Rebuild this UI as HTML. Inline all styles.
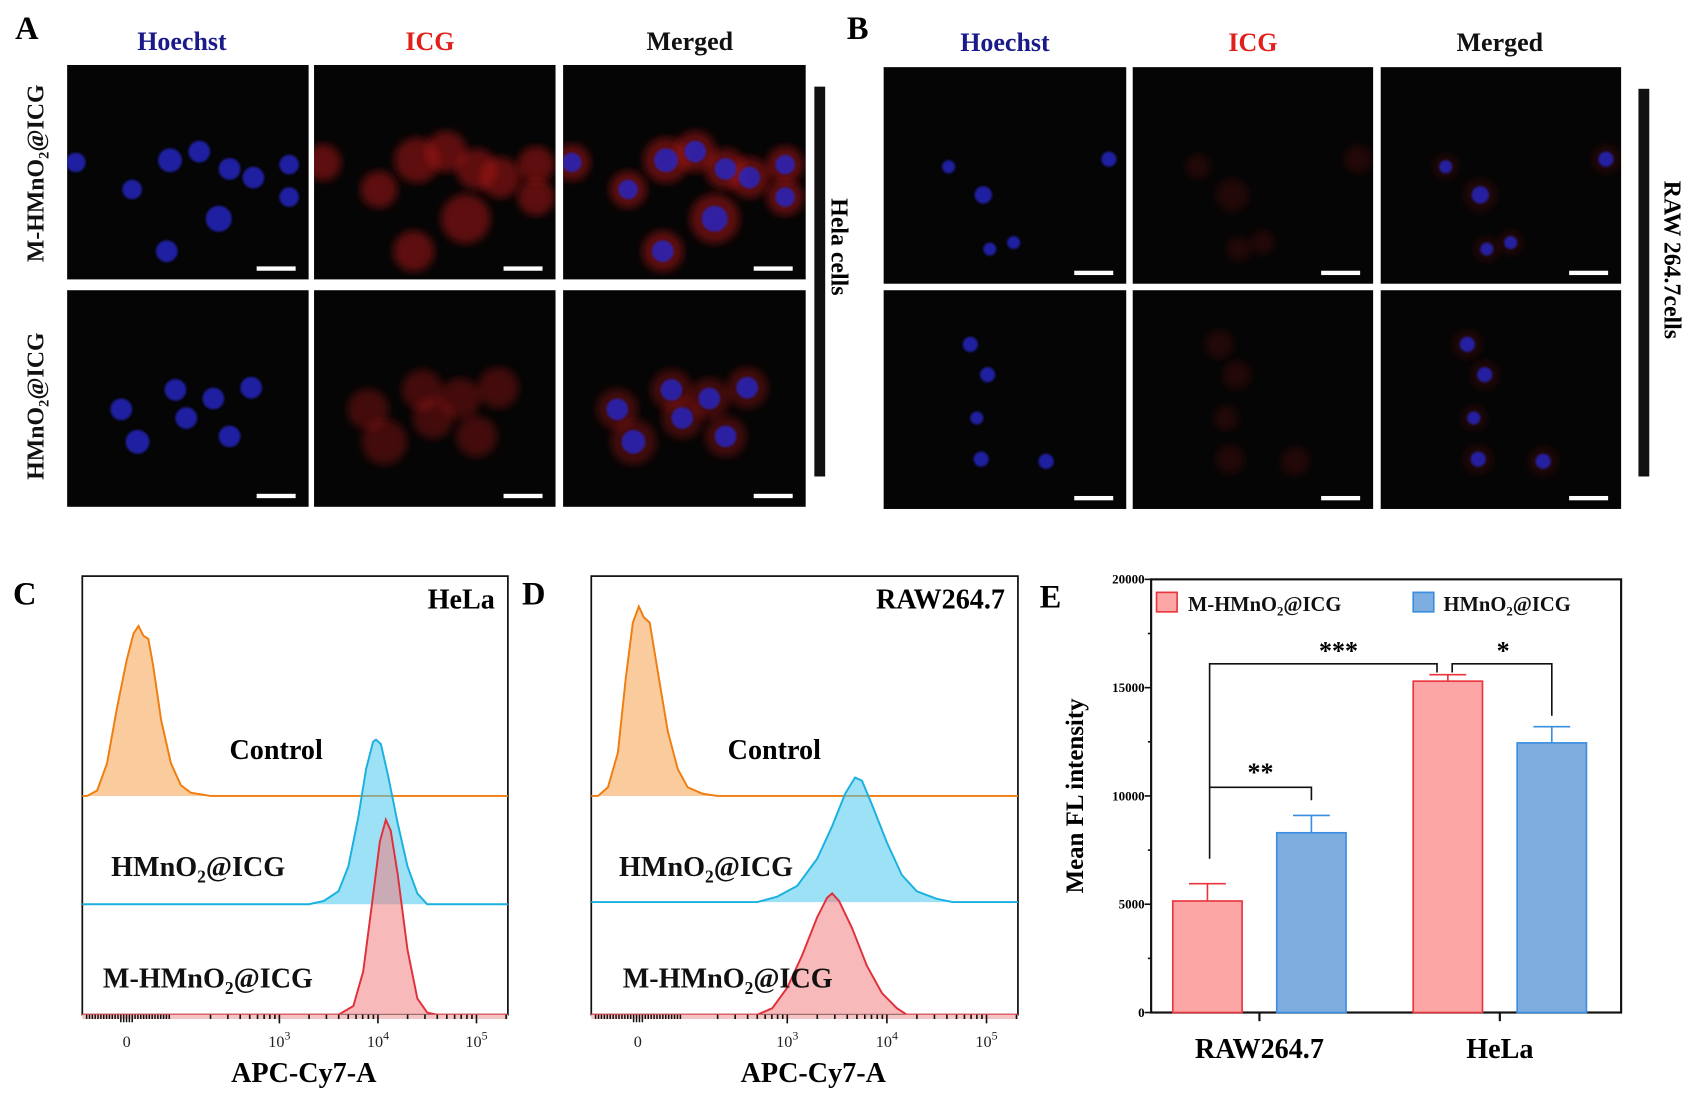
<!DOCTYPE html>
<html><head><meta charset="utf-8"><style>
html,body{margin:0;padding:0;background:#fff;}
svg{display:block;font-family:"Liberation Serif",serif;}
</style></head><body>
<svg id="fig" width="1698" height="1101" viewBox="0 0 1568 1016.7" xmlns="http://www.w3.org/2000/svg">
<defs>
<filter id="blur1"><feGaussianBlur stdDeviation="1"/></filter>
<filter id="blur4"><feGaussianBlur stdDeviation="4"/></filter>
</defs>
<g id="micro"></g>
<g id="flowC"></g>
<g id="flowD"></g>
<g id="barE"></g>
</svg>
<script>
const NS="http://www.w3.org/2000/svg";
function mk(parent,tag,attrs,txt){const e=document.createElementNS(NS,tag);for(const k in attrs)e.setAttribute(k,attrs[k]);if(txt!=null)e.textContent=txt;parent.appendChild(e);return e;}
function sub2(parent,x,y,pre,post,size,anchor,fill){
  const t=mk(parent,'text',{x:x,y:y,'font-size':size,'font-weight':'bold','text-anchor':anchor||'start',fill:fill||'#111'});
  mk(t,'tspan',{},pre);mk(t,'tspan',{'font-size':size*0.62,dy:size*0.22},'2');mk(t,'tspan',{dy:-size*0.22},post);return t;}

// ---------------- Microscopy ----------------
const micro=document.getElementById('micro');
const rowA1=[[8,90,9],[95,88,11],[122,80,10],[150,96,10],[172,104,10],[205,92,9],[140,142,12],[92,172,10],[205,122,9],[60,115,9]];
const rowA2=[[50,110,10],[100,92,10],[135,100,10],[170,90,10],[65,140,11],[150,135,10],[110,118,10]];
const rowB1=[[60,92,6],[208,85,7],[92,118,8],[98,168,6],[120,162,6]];
const rowB2=[[80,50,7],[96,78,7],[86,118,6],[90,156,7],[150,158,7]];
const colsA=[62,290,520], colsB=[816,1046,1275];
function drawImg(x,y,w,h,cells,mode,redI){
  const g=mk(micro,'g',{});
  
  
  mk(g,'rect',{x:x,y:y,width:w,height:h,fill:'#050505'});
  const cid='c'+Math.round(x)+'_'+Math.round(y);
  const cp=mk(g,'clipPath',{id:cid});mk(cp,'rect',{x:x,y:y,width:w,height:h});
  const cg=mk(g,'g',{'clip-path':'url(#'+cid+')'});
  if(mode!=='blue'){cells.forEach(c=>{mk(cg,'circle',{cx:x+c[0],cy:y+c[1],r:c[2]*1.9,fill:'#a81818',opacity:redI,filter:'url(#blur4)'});});}
  if(mode!=='red'){cells.forEach(c=>{mk(cg,'circle',{cx:x+c[0],cy:y+c[1],r:c[2],fill:'#2828c8',opacity:0.8,filter:'url(#blur1)'});});}
  mk(g,'rect',{x:x+w-48,y:y+h-12,width:36,height:4,fill:'#fff'});
}
[[60,198,rowA1,0.55],[268,200,rowA2,0.38]].forEach(r=>{colsA.forEach((cx,i)=>drawImg(cx,r[0],i==2?224:223,r[1],r[2],['blue','red','merged'][i],r[3]));});
[[62,200,rowB1,0.18],[268,202,rowB2,0.18]].forEach(r=>{colsB.forEach((cx,i)=>drawImg(cx,r[0],i==0?224:222,r[1],r[2],['blue','red','merged'][i],r[3]));});
// titles
[['Hoechst',168,'#1a1a8a'],['ICG',397,'#e0201a'],['Merged',637,'#111']].forEach(t=>mk(micro,'text',{x:t[1],y:46,'font-size':24,'font-weight':'bold','text-anchor':'middle',fill:t[2]},t[0]));
[['Hoechst',928,'#1a1a8a'],['ICG',1157,'#e0201a'],['Merged',1385,'#111']].forEach(t=>mk(micro,'text',{x:t[1],y:47,'font-size':24,'font-weight':'bold','text-anchor':'middle',fill:t[2]},t[0]));
mk(micro,'text',{x:14,y:36,'font-size':30,'font-weight':'bold'},'A');
mk(micro,'text',{x:782,y:36,'font-size':30,'font-weight':'bold'},'B');
let rl=mk(micro,'g',{transform:'translate(40,160) rotate(-90)'});sub2(rl,0,0,'M-HMnO','@ICG',22,'middle');
rl=mk(micro,'g',{transform:'translate(40,375) rotate(-90)'});sub2(rl,0,0,'HMnO','@ICG',22,'middle');
mk(micro,'rect',{x:752,y:80,width:10,height:360,fill:'#111'});
mk(micro,'text',{transform:'translate(768,228) rotate(90)','font-size':22,'font-weight':'bold','text-anchor':'middle'},'Hela cells');
mk(micro,'rect',{x:1513,y:82,width:10,height:358,fill:'#111'});
mk(micro,'text',{transform:'translate(1537,240) rotate(90)','font-size':22,'font-weight':'bold','text-anchor':'middle'},'RAW 264.7cells');

// ---------------- Flow cytometry ----------------
const cOrange=[[1.05,0],[1.15,5],[1.25,30],[1.35,80],[1.45,125],[1.52,150],[1.57,157],[1.62,148],[1.67,145],[1.72,120],[1.8,70],[1.9,30],[2.0,10],[2.1,3],[2.3,0]];
const cBlue=[[3.3,0],[3.45,3],[3.6,12],[3.7,35],[3.8,80],[3.88,125],[3.95,150],[3.98,152],[4.03,148],[4.1,120],[4.2,75],[4.3,35],[4.4,10],[4.5,0]];
const cRed=[[3.6,0],[3.75,8],[3.85,40],[3.95,110],[4.02,160],[4.08,180],[4.13,170],[4.2,130],[4.3,60],[4.4,15],[4.5,2],[4.6,0]];
const dOrange=[[1.1,0],[1.2,8],[1.3,40],[1.38,110],[1.45,160],[1.51,175],[1.56,165],[1.62,160],[1.7,115],[1.8,60],[1.9,25],[2.0,8],[2.15,2],[2.3,0]];
const dBlue=[[2.7,0],[2.9,5],[3.1,15],[3.3,40],[3.45,70],[3.58,100],[3.68,115],[3.75,112],[3.85,90],[4.0,55],[4.15,25],[4.3,10],[4.5,3],[4.66,0]];
const dRed=[[2.7,0],[2.85,6],[3.0,25],[3.15,55],[3.3,90],[3.4,108],[3.45,112],[3.52,105],[3.65,80],[3.8,45],[3.95,20],[4.1,6],[4.2,0]];
const flowTickLabels=['0','3','4','5'];
function flowPanel(gid,box,x3,pxDec,zeroV,curves,labels,title,letter){
  const g=document.getElementById(gid);
  const X=v=>x3+(v-3)*pxDec;
  mk(g,'rect',{x:box[0],y:box[1],width:box[2]-box[0],height:box[3]-box[1],fill:'none',stroke:'#111','stroke-width':1.6});
  curves.forEach(c=>{
    let d='M'+box[0]+','+c.base+' L'+X(c.pts[0][0])+','+c.base;
    c.pts.forEach(p=>{d+=' L'+X(p[0]).toFixed(1)+','+(c.base-p[1]).toFixed(1);});
    d+=' L'+X(c.pts[c.pts.length-1][0])+','+c.base;
    const fill=mk(g,'path',{d:d+' Z',fill:c.fill,opacity:0.55,stroke:'none'});
    
    
    const ln=mk(g,'path',{d:d+' L'+box[2]+','+c.base,fill:'none',stroke:c.stroke,'stroke-width':1.8});
    
    
  });
  mk(g,'rect',{x:box[0],y:box[3],width:box[2]-box[0],height:4,fill:'#f3c4c4'});
  const by=box[3];
  for(let dec=2;dec<=5;dec++){for(let m=1;m<10;m++){const v=dec+Math.log10(m);const px=X(v);if(px>box[0]&&px<box[2]&&v>=2.2){const L=m==1?8:4;mk(g,'line',{x1:px,y1:by,x2:px,y2:by+L,stroke:'#111','stroke-width':1.5});}}}
  for(let i=0;i<30;i++){const px=box[0]+4+i*((X(zeroV)+38-box[0])/30);const L=(Math.abs(px-X(zeroV))<6)?7:4;mk(g,'line',{x1:px,y1:by,x2:px,y2:by+L,stroke:'#111','stroke-width':1.4});}
  const tv=[zeroV,3,4,5];
  tv.forEach((v,i)=>{const t=mk(g,'text',{x:X(v),y:by+30,'font-size':15,'text-anchor':'middle',fill:'#222'});
    if(i==0)t.textContent=flowTickLabels[0];else{mk(t,'tspan',{},'10');mk(t,'tspan',{dy:-7,'font-size':11},flowTickLabels[i]);}
    
    });
  const xt=mk(g,'text',{x:(box[0]+box[2])/2+8,y:by+62,'font-size':26,'font-weight':'bold','text-anchor':'middle'},'APC-Cy7-A');
  
  
  mk(g,'text',{x:box[2]-12,y:box[1]+30,'font-size':26,'font-weight':'bold','text-anchor':'end'},title);
  mk(g,'text',{x:labels[0][0],y:labels[0][1],'font-size':26,'font-weight':'bold','text-anchor':'middle'},'Control');
  sub2(g,labels[1][0],labels[1][1],'HMnO','@ICG',26,'middle');
  sub2(g,labels[2][0],labels[2][1],'M-HMnO','@ICG',26,'middle');
  mk(g,'text',{x:box[0]-64,y:box[1]+26,'font-size':30,'font-weight':'bold'},letter);
}
flowPanel('flowC',[76,532,469,937],258,91,1.45,[
 {pts:cOrange,base:735,fill:'#f5a04a',stroke:'#f07d10',name:'control-c'},
 {pts:cBlue,base:835,fill:'#4ac8ee',stroke:'#1ab0e0',name:'hmno2-c'},
 {pts:cRed,base:937,fill:'#f08080',stroke:'#e0303a',name:'m-hmno2-c'}],
 [[255,701],[183,809],[192,912]],'HeLa','C');
flowPanel('flowD',[546,532,940,937],727,92,1.5,[
 {pts:dOrange,base:735,fill:'#f5a04a',stroke:'#f07d10',name:'control-d'},
 {pts:dBlue,base:833,fill:'#4ac8ee',stroke:'#1ab0e0',name:'hmno2-d'},
 {pts:dRed,base:937,fill:'#f08080',stroke:'#e0303a',name:'m-hmno2-d'}],
 [[715,701],[652,809],[672,912]],'RAW264.7','D');

// ---------------- Bar chart E ----------------
const categories=['RAW264.7','HeLa'];
const mVals=[5150,15300];
const mErr=[800,300];
const hVals=[8300,12450];
const hErr=[800,750];
const yTicks=[0,5000,10000,15000,20000];
const E=document.getElementById('barE');
const ax={l:1063,r:1497,t:535,b:935};
const Y=v=>ax.b-(v/20000)*(ax.b-ax.t);
const catX=i=>1163+i*222;
mk(E,'rect',{x:ax.l,y:ax.t,width:ax.r-ax.l,height:ax.b-ax.t,fill:'none',stroke:'#111','stroke-width':2});
for(let v=0;v<=20000;v+=2500){mk(E,'line',{x1:ax.l-(v%5000?3:6),y1:Y(v),x2:ax.l,y2:Y(v),stroke:'#111','stroke-width':1.5});}
yTicks.forEach(v=>{const t=mk(E,'text',{x:ax.l-6,y:Y(v)+4,'font-size':12,'font-weight':'bold','text-anchor':'end'},String(v));
 
 });
categories.forEach((c,i)=>{mk(E,'line',{x1:catX(i),y1:ax.b,x2:catX(i),y2:ax.b+8,stroke:'#111','stroke-width':2});
 const t=mk(E,'text',{x:catX(i),y:ax.b+42,'font-size':26,'font-weight':'bold','text-anchor':'middle'},c);
 
 });
const yl=mk(E,'text',{transform:'translate(1000,735) rotate(-90)','font-size':23,'font-weight':'bold','text-anchor':'middle'},'Mean FL intensity');


function bar(cx,v,e,fill,stroke,name){
  const w=64,x=cx-w/2;
  const r=mk(E,'rect',{x:x,y:Y(v),width:w,height:ax.b-Y(v),fill:fill,stroke:stroke,'stroke-width':1.5});
  
  
  mk(E,'line',{x1:cx,y1:Y(v),x2:cx,y2:Y(v+e),stroke:stroke,'stroke-width':1.5});
  mk(E,'line',{x1:cx-17,y1:Y(v+e),x2:cx+17,y2:Y(v+e),stroke:stroke,'stroke-width':1.5});
}
categories.forEach((c,i)=>{
  bar(catX(i)-48,mVals[i],mErr[i],'#fca6a6','#e8343c','bar-m-hmno2-'+c.toLowerCase());
  bar(catX(i)+48,hVals[i],hErr[i],'#7eaedf','#3a8ee0','bar-hmno2-'+c.toLowerCase());
});
const bp=(pts)=>mk(E,'polyline',{points:pts.map(p=>p.join(',')).join(' '),fill:'none',stroke:'#111','stroke-width':1.5});
const x1=catX(0)-46,x2=catX(0)+48,x3=catX(1)-50,x4=catX(1)+48;
bp([[x1,Y(7100)],[x1,Y(16100)],[x3-8,Y(16100)],[x3-8,Y(15700)]]);
bp([[x3+6,Y(15700)],[x3+6,Y(16100)],[x4,Y(16100)],[x4,Y(13700)]]);
bp([[x1,Y(10400)],[x2,Y(10400)],[x2,Y(9800)]]);
mk(E,'text',{x:(x1+x3)/2+10,y:Y(16100)-4,'font-size':24,'font-weight':'bold','text-anchor':'middle'},'***');
mk(E,'text',{x:(x3+x4)/2+4,y:Y(16100)-4,'font-size':24,'font-weight':'bold','text-anchor':'middle'},'*');
mk(E,'text',{x:(x1+x2)/2,y:Y(10400)-6,'font-size':24,'font-weight':'bold','text-anchor':'middle'},'**');
const lg1=mk(E,'g',{});
mk(lg1,'rect',{x:1068,y:547,width:19,height:18,fill:'#fca6a6',stroke:'#e8343c','stroke-width':1.5});
const lg2=mk(E,'g',{});
mk(lg2,'rect',{x:1305,y:547,width:19,height:18,fill:'#7eaedf',stroke:'#3a8ee0','stroke-width':1.5});
sub2(lg1,1097,564,'M-HMnO','@ICG',19,'start');
sub2(lg2,1333,564,'HMnO','@ICG',19,'start');
mk(E,'text',{x:960,y:561,'font-size':30,'font-weight':'bold'},'E');
</script>
</body></html>
